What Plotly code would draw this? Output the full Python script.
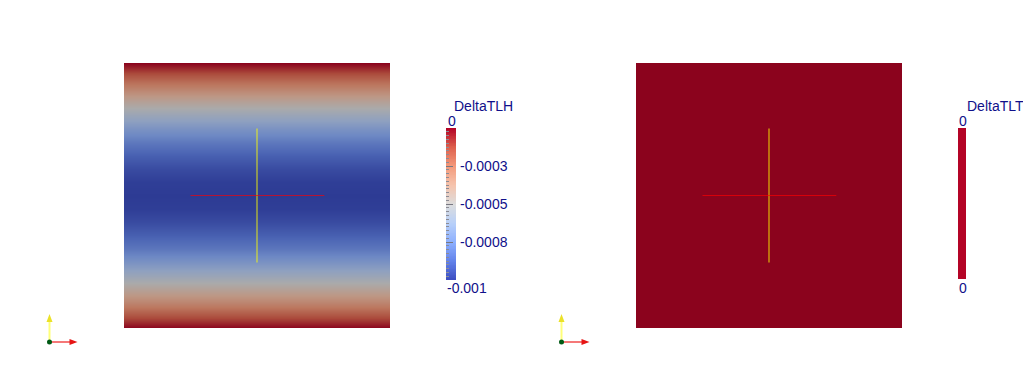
import numpy as np
import plotly.graph_objects as go

W, H = 1023, 389

# ---- data ----
# DeltaTLH sampled along the vertical direction (fraction of height), constant horizontally
row_pos = [0.0, 0.05, 0.10, 0.15, 0.20, 0.25, 0.30, 0.35, 0.40, 0.45, 0.50,
           0.55, 0.60, 0.65, 0.70, 0.75, 0.80, 0.85, 0.90, 0.95, 1.0]
tlh_vals = [0.0, -0.00016, -0.00031, -0.00045, -0.00058, -0.00070, -0.00081, -0.00089,
            -0.00095, -0.00099, -0.0010, -0.00099, -0.00095, -0.00089, -0.00081,
            -0.00070, -0.00058, -0.00045, -0.00031, -0.00016, 0.0]
col_pos = [0.0, 1.0]
tlt_vals = [0.0] * len(row_pos)
tlh_range = [-0.001, 0.0]
tlh_ticks = [0.0, -0.00025, -0.0005, -0.00075, -0.001]
tlh_ticktext = ["0", "-0.0003", "-0.0005", "-0.0008", "-0.001"]

# ParaView "Cool to Warm"
cw_stops = [0.0, 0.125, 0.25, 0.375, 0.5, 0.625, 0.75, 0.875, 1.0]
cw_rgb = [(59, 76, 192), (98, 130, 234), (141, 176, 254), (184, 208, 249), (221, 221, 221),
          (245, 196, 173), (244, 154, 123), (222, 96, 77), (180, 4, 38)]
SHADE = 0.77

def cscale(f):
    return [[s, "rgb(%d,%d,%d)" % tuple(round(c * f) for c in rgb)] for s, rgb in zip(cw_stops, cw_rgb)]

def px(x):
    return x / W

def py(y):
    return 1 - y / H

fig = go.Figure()

z_tlh = [[v, v] for v in tlh_vals]
z_tlt = [[v, v] for v in tlt_vals]

fig.add_trace(go.Heatmap(x=col_pos, y=row_pos, z=z_tlh, colorscale=cscale(SHADE),
                         zmin=tlh_range[0], zmax=tlh_range[1], zsmooth="best",
                         showscale=False, hoverinfo="skip", xaxis="x", yaxis="y"))
red_dark = "rgb(%d,%d,%d)" % tuple(round(c * SHADE) for c in cw_rgb[-1])
fig.add_trace(go.Heatmap(x=col_pos, y=row_pos, z=z_tlt,
                         colorscale=[[0, red_dark], [1, red_dark]], zmin=-1, zmax=0,
                         zsmooth="best", showscale=False, hoverinfo="skip",
                         xaxis="x2", yaxis="y2"))

# colour bars as small heatmaps
cb_y = np.linspace(tlh_range[0], tlh_range[1], 200)
fig.add_trace(go.Heatmap(x=[0, 1], y=cb_y, z=[[v, v] for v in cb_y], colorscale=cscale(1.0),
                         zmin=tlh_range[0], zmax=tlh_range[1], zsmooth="best",
                         showscale=False, hoverinfo="skip", xaxis="x3", yaxis="y3"))
red = "rgb(%d,%d,%d)" % cw_rgb[-1]
fig.add_trace(go.Heatmap(x=[0, 1], y=[0, 1], z=[[0, 0], [0, 0]],
                         colorscale=[[0, red], [1, red]], zmin=-1, zmax=0,
                         showscale=False, hoverinfo="skip", xaxis="x4", yaxis="y4"))

hidden = dict(showgrid=False, zeroline=False, showticklabels=False, ticks="", showline=False)
fig.update_layout(
    width=W, height=H, margin=dict(l=0, r=0, t=0, b=0),
    paper_bgcolor="white", plot_bgcolor="white", showlegend=False,
    xaxis=dict(domain=[px(124), px(390)], range=[0, 1], anchor="y", **hidden),
    yaxis=dict(domain=[py(328), py(63)], range=[0, 1], anchor="x", **hidden),
    xaxis2=dict(domain=[px(636), px(902)], range=[0, 1], anchor="y2", **hidden),
    yaxis2=dict(domain=[py(328), py(63)], range=[0, 1], anchor="x2", **hidden),
    xaxis3=dict(domain=[px(446), px(456)], range=[0, 1], anchor="y3", **hidden),
    yaxis3=dict(domain=[py(280), py(128)], range=tlh_range, anchor="x3", showgrid=False,
                zeroline=False, showticklabels=False, showline=False, ticks="inside", ticklen=7,
                tickcolor="rgb(120,120,130)", tickwidth=1, tickvals=tlh_ticks,
                minor=dict(ticks="inside", ticklen=3, dtick=0.000025,
                           tickcolor="rgb(140,140,150)", tickwidth=1)),
    xaxis4=dict(domain=[px(958), px(966)], range=[0, 1], anchor="y4", **hidden),
    yaxis4=dict(domain=[py(279), py(128)], range=[0, 1], anchor="x4", **hidden),
)

txt = "rgb(16,16,138)"
font = dict(family="Liberation Sans, Arial, sans-serif", size=14, color=txt)
ann = []
ann.append(dict(x=px(452), y=py(106), xref="paper", yref="paper", text="DeltaTLH",
                xanchor="left", yanchor="middle", showarrow=False, font=font))
ann.append(dict(x=px(446), y=py(121), xref="paper", yref="paper", text=tlh_ticktext[0],
                xanchor="left", yanchor="middle", showarrow=False, font=font))
ann.append(dict(x=px(445), y=py(288), xref="paper", yref="paper", text=tlh_ticktext[-1],
                xanchor="left", yanchor="middle", showarrow=False, font=font))
for v, t in zip(tlh_ticks[1:-1], tlh_ticktext[1:-1]):
    ann.append(dict(x=1, y=v, xref="x3", yref="y3", text=t, xanchor="left", yanchor="middle",
                    xshift=2, showarrow=False, font=font))
ann.append(dict(x=px(965), y=py(106), xref="paper", yref="paper", text="DeltaTLT",
                xanchor="left", yanchor="middle", showarrow=False, font=font))
ann.append(dict(x=px(957), y=py(121), xref="paper", yref="paper", text="0",
                xanchor="left", yanchor="middle", showarrow=False, font=font))
ann.append(dict(x=px(957), y=py(288), xref="paper", yref="paper", text="0",
                xanchor="left", yanchor="middle", showarrow=False, font=font))
fig.update_layout(annotations=ann)

shapes = []
# centre axes cross in each view
for xr, yr in (("x", "y"), ("x2", "y2")):
    shapes.append(dict(type="line", xref=xr, yref=yr, x0=0.5, x1=0.5, y0=0.247, y1=0.753,
                       line=dict(color="rgba(255,255,0,0.72)", width=1.2)))
    shapes.append(dict(type="line", xref=xr, yref=yr, x0=0.25, x1=0.753, y0=0.5, y1=0.5,
                       line=dict(color="rgba(255,0,0,0.65)", width=1)))

# orientation triads
for ox in (49.5, 561.5):
    oy = 342
    shapes.append(dict(type="line", xref="paper", yref="paper", x0=px(ox), x1=px(ox),
                       y0=py(oy), y1=py(oy - 21), line=dict(color="rgb(255,255,120)", width=2)))
    shapes.append(dict(type="path", xref="paper", yref="paper",
                       path="M %f %f L %f %f L %f %f Z" % (px(ox - 3), py(oy - 20), px(ox + 3), py(oy - 20), px(ox), py(oy - 28)),
                       fillcolor="rgb(235,225,40)", line=dict(width=0)))
    shapes.append(dict(type="line", xref="paper", yref="paper", x0=px(ox), x1=px(ox + 21),
                       y0=py(oy), y1=py(oy), line=dict(color="rgb(245,120,120)", width=2)))
    shapes.append(dict(type="path", xref="paper", yref="paper",
                       path="M %f %f L %f %f L %f %f Z" % (px(ox + 20), py(oy - 3), px(ox + 20), py(oy + 3), px(ox + 28), py(oy)),
                       fillcolor="rgb(230,20,20)", line=dict(width=0)))
    shapes.append(dict(type="circle", xref="paper", yref="paper", x0=px(ox - 2.5), x1=px(ox + 2.5),
                       y0=py(oy + 2.5), y1=py(oy - 2.5), fillcolor="rgb(0,90,20)", line=dict(width=0)))
fig.update_layout(shapes=shapes)

fig.write_html("out.html")
